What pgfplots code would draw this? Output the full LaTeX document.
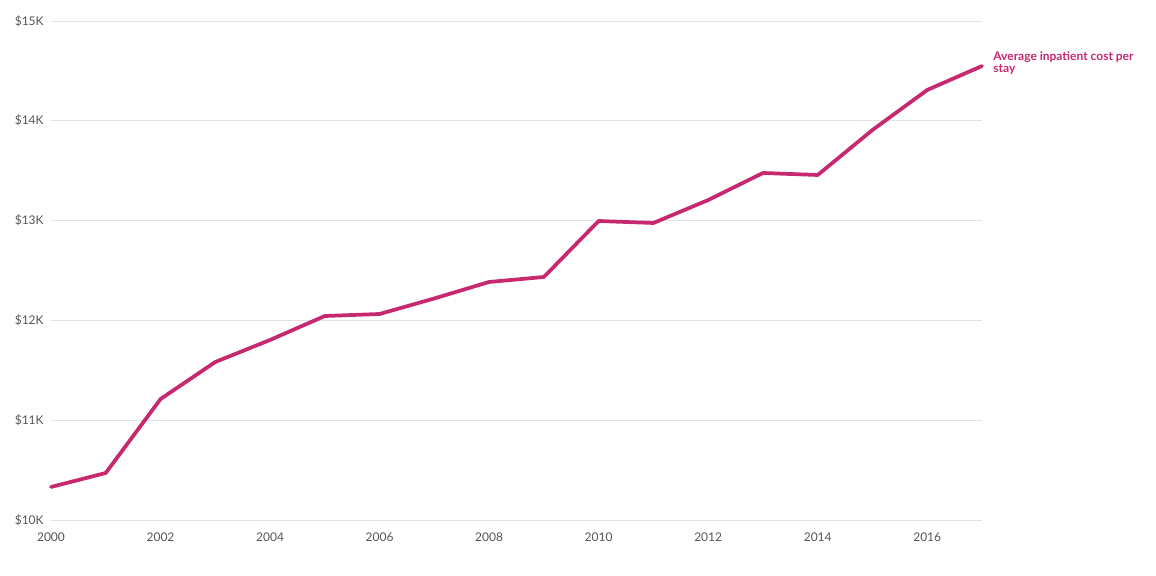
\documentclass[border=0pt]{standalone}
\usepackage{fontspec}
\setmainfont{Lato}
\usepackage{pgfplots}
\pgfplotsset{compat=1.18}
\definecolor{costline}{RGB}{200,40,110}
\definecolor{gridgray}{RGB}{226,226,226}
\definecolor{ticktext}{RGB}{85,85,85}

\pgfplotstableread{
year cost
2000 10331
2001 10471
2002 11212
2003 11583
2004 11804
2005 12044
2006 12064
2007 12220
2008 12385
2009 12435
2010 12996
2011 12976
2012 13206
2013 13477
2014 13457
2015 13908
2016 14309
2017 14549
}\costdata

\begin{document}
\begin{tikzpicture}
  \begin{axis}[
    scale only axis,
    width=698.25pt, height=374.25pt,
    xmin=2000, xmax=2017,
    ymin=10000, ymax=15000,
    scaled x ticks=false, scaled y ticks=false,
    xtick={2000,2002,...,2016},
    ytick={10000,11000,...,15000},
    yticklabels={\$10K,\$11K,\$12K,\$13K,\$14K,\$15K},
    xticklabel style={/pgf/number format/1000 sep={}, font=\fontsize{9}{10}\selectfont, text=ticktext, yshift=-6pt},
    yticklabel style={font=\fontsize{9}{10}\selectfont, text=ticktext, xshift=-2pt},
    /pgf/number format/assume math mode=true,
    axis line style={draw=none},
    major tick length=0pt,
    ymajorgrids,
    grid style={gridgray, line width=0.6pt},
    clip=false,
  ]
    \addplot[costline, line width=2.8pt, line join=round, line cap=round] table[x=year, y=cost] {\costdata};
    \node[anchor=west, align=left, text=costline, font=\bfseries\fontsize{9}{9}\selectfont, xshift=5pt, yshift=2pt]
      at (axis cs:2017,14549) {Average inpatient cost per\\stay};
  \end{axis}
  \pgfresetboundingbox
  \path ([xshift=-38.25pt,yshift=-42pt]current axis.south west) rectangle ([xshift=130.5pt,yshift=15.75pt]current axis.north east);
\end{tikzpicture}
\end{document}
